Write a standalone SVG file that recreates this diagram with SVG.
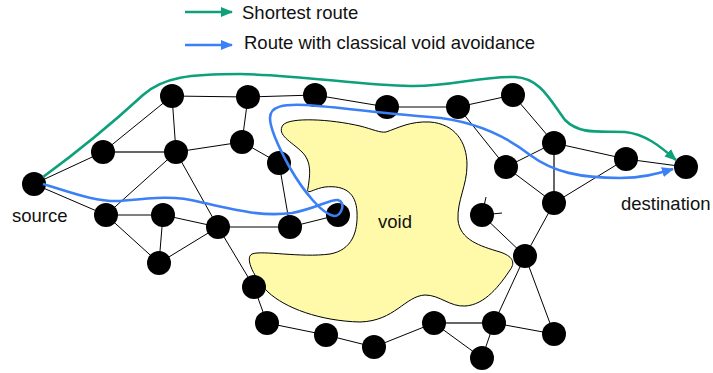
<svg xmlns="http://www.w3.org/2000/svg" width="713" height="373" viewBox="0 0 713 373">
<defs>
<style>
.edge{stroke:#000;stroke-width:1;fill:none}
.thick{stroke:#666;stroke-width:2;fill:none}
.node{fill:#000}
.lbl{font-family:"Liberation Sans",Arial,sans-serif;font-size:18.5px;fill:#111}
.green{stroke:#0ea07a;stroke-width:2.6;fill:none}
.blue{stroke:#3b80f5;stroke-width:2.6;fill:none}
</style>
<marker id="ag" viewBox="0 0 12 10" refX="11" refY="5" markerWidth="12" markerHeight="10" markerUnits="userSpaceOnUse" orient="auto"><path d="M0,0 L12,5 L0,10 Z" fill="#0ea07a"/></marker>
<marker id="ab" viewBox="0 0 12 10" refX="11" refY="5" markerWidth="12" markerHeight="10" markerUnits="userSpaceOnUse" orient="auto"><path d="M0,0 L12,5 L0,10 Z" fill="#3b80f5"/></marker>
</defs>
<rect width="713" height="373" fill="#fff"/>

<g id="legend">
<line x1="185" y1="12" x2="232" y2="12" class="green" stroke-width="2" marker-end="url(#ag)"/>
<text class="lbl" x="242" y="19">Shortest route</text>
<line x1="185" y1="45" x2="232" y2="45" class="blue" stroke-width="2" marker-end="url(#ab)"/>
<text class="lbl" x="244" y="49">Route with classical void avoidance</text>
</g>

<g id="void">
<path d="M283,125 C290,117 330,119 360,126 C372,129 380,133 386,132 C398,128 410,121 430,122 C455,124 467,142 467,165 C467,186 457,200 458,220 C460,240 480,246 500,252 C512,256 516,262 510,270 C500,285 485,305 465,306 C450,307 440,295 425,295 C405,296 395,321 360,322 C320,321 285,308 268,292 C255,279 244,258 252,254 C262,250 300,258 330,254 C352,250 358,232 357,212 C356,193 345,185 325,187 C312,189 306,196 308,188 C310,175 312,162 302,152 C292,142 276,135 283,125 Z" fill="#fffaaa" stroke="#000" stroke-width="1"/>
<text class="lbl" x="378" y="228" font-size="19.5">void</text>
</g>

<g id="connectors">
<line class="edge" x1="34" y1="184" x2="103" y2="152"/>
<line class="edge" x1="34" y1="184" x2="106" y2="215"/>
<line class="edge" x1="103" y1="152" x2="172" y2="96"/>
<line class="thick" x1="103" y1="152" x2="176" y2="152"/>
<line class="edge" x1="172" y1="96" x2="176" y2="152"/>
<line class="edge" x1="172" y1="96" x2="248" y2="97"/>
<line class="edge" x1="176" y1="152" x2="242" y2="142"/>
<line class="edge" x1="176" y1="152" x2="106" y2="215"/>
<line class="edge" x1="176" y1="152" x2="218" y2="227"/>
<line class="edge" x1="248" y1="97" x2="315" y2="95"/>
<line class="edge" x1="248" y1="97" x2="242" y2="142"/>
<line class="edge" x1="242" y1="142" x2="279" y2="163"/>
<line class="edge" x1="279" y1="163" x2="290" y2="227"/>
<line class="edge" x1="315" y1="95" x2="387" y2="107"/>
<line class="edge" x1="387" y1="107" x2="458" y2="107"/>
<line class="edge" x1="458" y1="107" x2="513" y2="95"/>
<line class="edge" x1="458" y1="107" x2="506" y2="167"/>
<line class="edge" x1="513" y1="95" x2="554" y2="143"/>
<line class="edge" x1="554" y1="143" x2="506" y2="167"/>
<line class="edge" x1="554" y1="143" x2="626" y2="159"/>
<line class="thick" x1="554" y1="143" x2="554" y2="203"/>
<line class="edge" x1="626" y1="159" x2="686" y2="167"/>
<line class="edge" x1="626" y1="159" x2="554" y2="203"/>
<line class="edge" x1="506" y1="167" x2="554" y2="203"/>
<line class="edge" x1="554" y1="203" x2="525" y2="256"/>
<line class="edge" x1="482" y1="215" x2="525" y2="256"/>
<line class="edge" x1="482" y1="215" x2="486" y2="197"/>
<line class="edge" x1="482" y1="215" x2="502" y2="213"/>
<line class="edge" x1="525" y1="256" x2="494" y2="323"/>
<line class="edge" x1="525" y1="256" x2="554" y2="334"/>
<line class="edge" x1="494" y1="323" x2="554" y2="334"/>
<line class="edge" x1="494" y1="323" x2="482" y2="358"/>
<line class="thick" x1="434" y1="323" x2="494" y2="323"/>
<line class="edge" x1="434" y1="323" x2="482" y2="358"/>
<line class="edge" x1="434" y1="323" x2="374" y2="347"/>
<line class="edge" x1="374" y1="347" x2="326" y2="335"/>
<line class="edge" x1="326" y1="335" x2="267" y2="323"/>
<line class="edge" x1="267" y1="323" x2="254" y2="287"/>
<line class="edge" x1="254" y1="287" x2="218" y2="227"/>
<line class="edge" x1="218" y1="227" x2="290" y2="227"/>
<line class="edge" x1="290" y1="227" x2="338" y2="215"/>
<line class="edge" x1="218" y1="227" x2="163" y2="215"/>
<line class="edge" x1="218" y1="227" x2="159" y2="263"/>
<line class="edge" x1="163" y1="215" x2="106" y2="215"/>
<line class="edge" x1="163" y1="215" x2="159" y2="263"/>
<line class="edge" x1="106" y1="215" x2="159" y2="263"/>
</g>

<g id="nodes">
<g id="n-source"><circle class="node" cx="34" cy="184" r="12"/><text class="lbl" x="12" y="222">source</text></g>
<g id="n2"><circle class="node" cx="103" cy="152" r="12"/></g>
<g id="n3"><circle class="node" cx="172" cy="96" r="12"/></g>
<g id="n4"><circle class="node" cx="176" cy="152" r="12"/></g>
<g id="n5"><circle class="node" cx="248" cy="97" r="12"/></g>
<g id="n6"><circle class="node" cx="242" cy="142" r="12"/></g>
<g id="n7"><circle class="node" cx="279" cy="163" r="12"/></g>
<g id="n8"><circle class="node" cx="315" cy="95" r="12"/></g>
<g id="n9"><circle class="node" cx="387" cy="107" r="12"/></g>
<g id="n10"><circle class="node" cx="458" cy="107" r="12"/></g>
<g id="n11"><circle class="node" cx="513" cy="95" r="12"/></g>
<g id="n12"><circle class="node" cx="554" cy="143" r="12"/></g>
<g id="n13"><circle class="node" cx="626" cy="159" r="12"/></g>
<g id="n-destination"><circle class="node" cx="686" cy="167" r="12"/><text class="lbl" x="621" y="210">destination</text></g>
<g id="n15"><circle class="node" cx="506" cy="167" r="12"/></g>
<g id="n16"><circle class="node" cx="554" cy="203" r="12"/></g>
<g id="n17"><circle class="node" cx="482" cy="215" r="12"/></g>
<g id="n18"><circle class="node" cx="525" cy="256" r="12"/></g>
<g id="n19"><circle class="node" cx="494" cy="323" r="12"/></g>
<g id="n20"><circle class="node" cx="554" cy="334" r="12"/></g>
<g id="n21"><circle class="node" cx="482" cy="358" r="12"/></g>
<g id="n22"><circle class="node" cx="434" cy="323" r="12"/></g>
<g id="n23"><circle class="node" cx="374" cy="347" r="12"/></g>
<g id="n24"><circle class="node" cx="326" cy="335" r="12"/></g>
<g id="n25"><circle class="node" cx="267" cy="323" r="12"/></g>
<g id="n26"><circle class="node" cx="254" cy="287" r="12"/></g>
<g id="n27"><circle class="node" cx="218" cy="227" r="12"/></g>
<g id="n28"><circle class="node" cx="290" cy="227" r="12"/></g>
<g id="n29"><circle class="node" cx="338" cy="215" r="12"/></g>
<g id="n30"><circle class="node" cx="163" cy="215" r="12"/></g>
<g id="n31"><circle class="node" cx="106" cy="215" r="12"/></g>
<g id="n32"><circle class="node" cx="159" cy="263" r="12"/></g>
</g>

<g id="routes">
<path class="green" marker-end="url(#ag)" d="M43,177 C80,150 118,118 143,95 C163,77 190,74 240,74 C300,75 360,85 410,86 C450,87 480,76 515,77 C540,78 550,100 565,120 C580,135 600,131 625,132 C645,134 660,146 676,160"/>
<path class="blue" marker-end="url(#ab)" d="M43,184 C70,192 95,202 120,201 C150,198 175,195 200,202 C235,210 262,217 292,213 C315,209 330,199 338,200 C346,202 342,216 334,216 C322,214 304,192 290,168 C279,148 270,130 270,118 C270,106 284,104 305,105 C340,107 385,114 430,117 C470,120 502,133 530,155 C553,172 580,178 620,178 C642,178 656,174 673,169"/>
</g>
</svg>
